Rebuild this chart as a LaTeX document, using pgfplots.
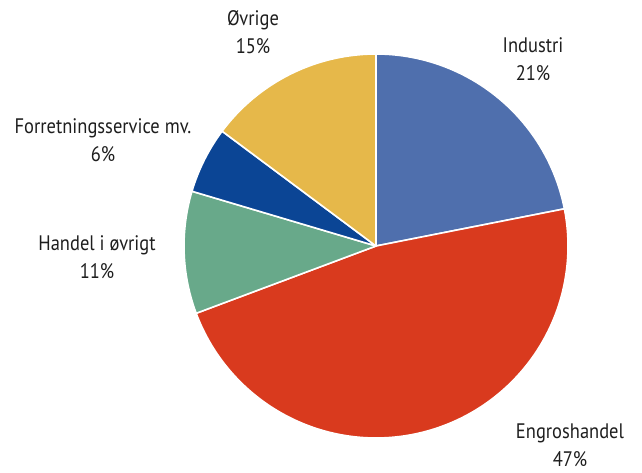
\documentclass[border=0pt]{standalone}
\usepackage{fontspec}
\setmainfont[FakeStretch=0.88]{PT Sans}
\usepackage{pgfplots}
\pgfplotsset{compat=1.18}
\definecolor{cInd}{HTML}{4F6FAD}
\definecolor{cEng}{HTML}{D93A1E}
\definecolor{cHan}{HTML}{68A98A}
\definecolor{cFor}{HTML}{0B4595}
\definecolor{cOvr}{HTML}{E6B84A}
\definecolor{txt}{HTML}{1E1E1E}
% shares (per cent): Industri, Engroshandel, Handel i oevrigt, Forretningsservice, Oevrige
\def\vA{21.9}\def\vB{47.4}\def\vC{10.3}\def\vD{5.6}\def\vE{14.8}
\pgfmathsetmacro\aZ{90}
\pgfmathsetmacro\aA{\aZ-3.6*\vA}
\pgfmathsetmacro\aB{\aA-3.6*\vB}
\pgfmathsetmacro\aC{\aB-3.6*\vC}
\pgfmathsetmacro\aD{\aC-3.6*\vD}
\pgfmathsetmacro\aE{\aD-3.6*\vE}
\begin{document}
\begin{tikzpicture}
\begin{axis}[
  width=642pt, height=473pt, scale only axis,
  xmin=0, xmax=642, ymin=0, ymax=473,
  hide axis, clip=false,
  every axis plot/.append style={draw=white, line width=1.6pt, line join=round},
]
\addplot[fill=cInd, domain=\aA:\aZ, samples=80] ({376+192*cos(x)},{227+192*sin(x)}) -- (axis cs:376,227) -- cycle;
\addplot[fill=cEng, domain=\aB:\aA, samples=160] ({376+192*cos(x)},{227+192*sin(x)}) -- (axis cs:376,227) -- cycle;
\addplot[fill=cHan, domain=\aC:\aB, samples=40] ({376+192*cos(x)},{227+192*sin(x)}) -- (axis cs:376,227) -- cycle;
\addplot[fill=cFor, domain=\aD:\aC, samples=30] ({376+192*cos(x)},{227+192*sin(x)}) -- (axis cs:376,227) -- cycle;
\addplot[fill=cOvr, domain=\aE:\aD, samples=60] ({376+192*cos(x)},{227+192*sin(x)}) -- (axis cs:376,227) -- cycle;
\begin{scope}[every node/.style={text=txt, font=\fontsize{21}{28}\selectfont, align=center, inner sep=0pt}]
\node at (axis cs:533,414) {Industri\\21\%};
\node at (axis cs:570,28) {Engroshandel\\47\%};
\node at (axis cs:97,216) {Handel i øvrigt\\11\%};
\node at (axis cs:103,333) {Forretningsservice mv.\\6\%};
\node at (axis cs:253,441) {Øvrige\\15\%};
\end{scope}
\coordinate (ll) at (axis cs:0,0);
\coordinate (ur) at (axis cs:642,473);
\end{axis}
\pgfresetboundingbox
\useasboundingbox (ll) rectangle (ur);
\end{tikzpicture}
\end{document}
